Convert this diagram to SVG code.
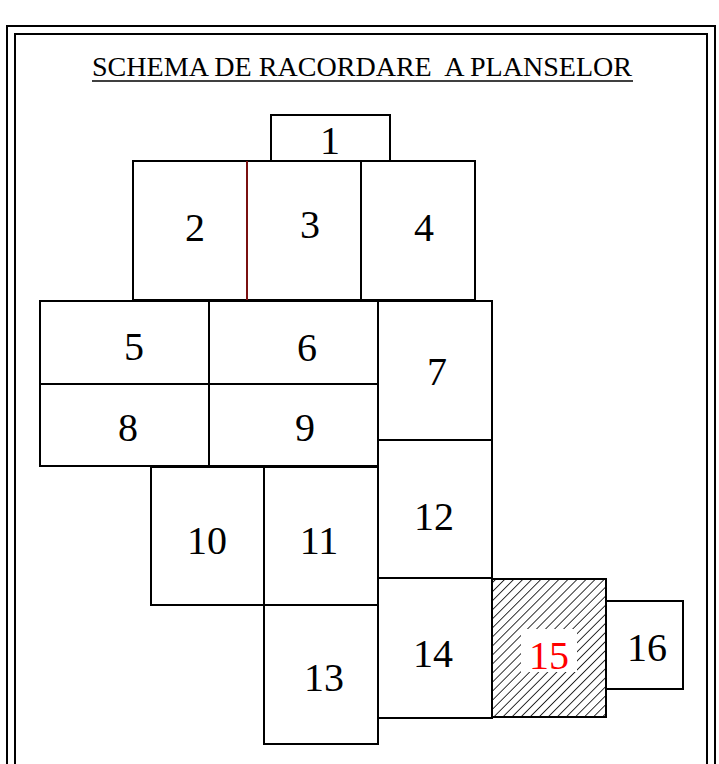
<svg xmlns="http://www.w3.org/2000/svg" width="719" height="764" viewBox="0 0 719 764">
<defs>
<style>
.b{fill:#fff;stroke:#000;stroke-width:2}
.t{font-family:"Liberation Serif","Times New Roman",serif;font-size:40px;fill:#000;text-anchor:middle}
</style>
<pattern id="hatch" patternUnits="userSpaceOnUse" width="6.4" height="6.4" patternTransform="rotate(45 492 717)">
<rect width="6.4" height="6.4" fill="#fff"/>
<line x1="0" y1="0" x2="0" y2="6.4" stroke="#000" stroke-width="1.6"/>
</pattern>
</defs>
<rect width="719" height="764" fill="#fff"/>
<g id="frame" fill="none" stroke="#000" stroke-width="2">
<rect x="7" y="26" width="708" height="760"/>
<rect x="15" y="34" width="692" height="760"/>
</g>
<g id="title">
<text x="362" y="76" font-family="'Liberation Serif','Times New Roman',serif" font-size="27" text-anchor="middle" textLength="540" lengthAdjust="spacingAndGlyphs" xml:space="preserve">SCHEMA DE RACORDARE  A PLANSELOR</text>
<line x1="92" y1="81" x2="633" y2="81" stroke="#000" stroke-width="1.6"/>
</g>
<g id="n1"><rect class="b" x="271" y="115" width="119" height="46"/><text class="t" x="330" y="154">1</text></g>
<g id="n2"><rect class="b" x="133" y="161" width="114" height="139"/><text class="t" x="195" y="241">2</text></g>
<g id="n3"><rect class="b" x="247" y="161" width="114" height="139"/><text class="t" x="310" y="238">3</text></g>
<g id="n4"><rect class="b" x="361" y="161" width="114" height="139"/><text class="t" x="424" y="241">4</text></g>
<g id="n5"><rect class="b" x="40" y="301" width="169" height="83"/><text class="t" x="134" y="360">5</text></g>
<g id="n6"><rect class="b" x="209" y="301" width="169" height="83"/><text class="t" x="307" y="361">6</text></g>
<g id="n7"><rect class="b" x="378" y="301" width="114" height="139"/><text class="t" x="437" y="385">7</text></g>
<g id="n8"><rect class="b" x="40" y="384" width="169" height="82"/><text class="t" x="128" y="441">8</text></g>
<g id="n9"><rect class="b" x="209" y="384" width="169" height="82"/><text class="t" x="305" y="441">9</text></g>
<g id="n10"><rect class="b" x="151" y="467" width="113" height="138"/><text class="t" x="207" y="554">10</text></g>
<g id="n11"><rect class="b" x="264" y="467" width="114" height="138"/><text class="t" x="319" y="554">11</text></g>
<g id="n12"><rect class="b" x="378" y="440" width="114" height="138"/><text class="t" x="434" y="530">12</text></g>
<g id="n13"><rect class="b" x="264" y="605" width="114" height="139"/><text class="t" x="324" y="691">13</text></g>
<g id="n14"><rect class="b" x="378" y="578" width="114" height="140"/><text class="t" x="433" y="667">14</text></g>
<g id="n15"><rect x="492" y="579" width="114" height="138" fill="url(#hatch)" stroke="#000" stroke-width="2"/><rect x="521" y="629" width="56" height="43" fill="#fff"/><text class="t" x="549" y="669" style="fill:#f00">15</text></g>
<g id="n16"><rect class="b" x="606" y="601" width="77" height="88"/><text class="t" x="647" y="661">16</text></g>
<g id="connectors"><line x1="247" y1="161" x2="247" y2="300" stroke="#7a1010" stroke-width="2"/></g>
</svg>
